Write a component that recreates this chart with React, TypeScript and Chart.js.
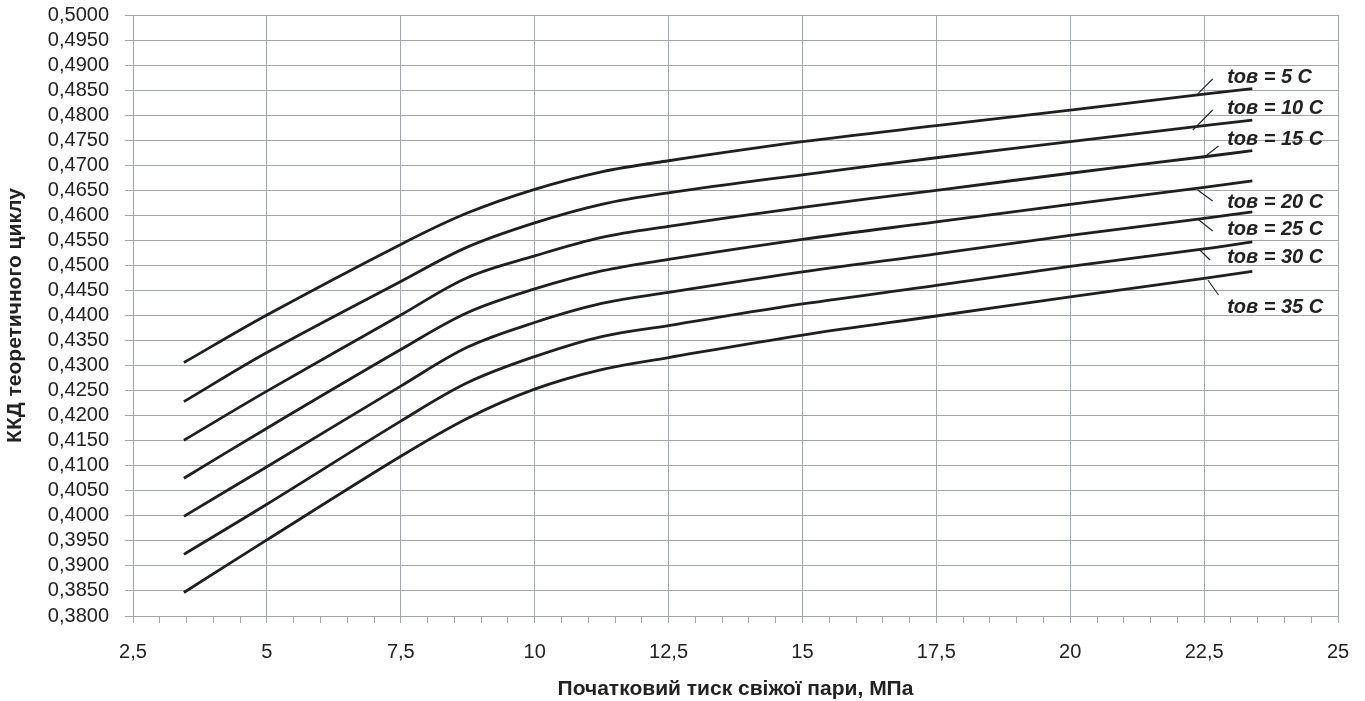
import React, { useEffect, useRef } from "react";
import { Chart, registerables } from "chart.js";

Chart.register(...registerables);

// Initial steam pressure, MPa
const pressure = [3.45, 5, 7.5, 8.75, 10, 11.25, 12.5, 15, 17.5, 20, 22.5, 23.4];

// Theoretical cycle efficiency for cooling-water temperatures
const eta5 = [0.4306, 0.4401, 0.4542, 0.4605, 0.4652, 0.4687, 0.4709, 0.4747, 0.4779, 0.481, 0.4842, 0.4853];
const eta10 = [0.4228, 0.4326, 0.4468, 0.4537, 0.4585, 0.4622, 0.4645, 0.4681, 0.4715, 0.4747, 0.4779, 0.479];
const eta15 = [0.4151, 0.4249, 0.4401, 0.4476, 0.4519, 0.4556, 0.4578, 0.4616, 0.465, 0.4684, 0.4717, 0.4729];
const eta20 = [0.4075, 0.4175, 0.4332, 0.4406, 0.4453, 0.4489, 0.4512, 0.4552, 0.4587, 0.4622, 0.4656, 0.4669];
const eta25 = [0.3999, 0.4098, 0.4259, 0.4337, 0.4386, 0.4424, 0.4446, 0.4487, 0.4523, 0.456, 0.4594, 0.4607];
const eta30 = [0.3923, 0.4023, 0.4189, 0.4266, 0.4318, 0.4358, 0.438, 0.4423, 0.446, 0.4498, 0.4533, 0.4547];
const eta35 = [0.3847, 0.3952, 0.4119, 0.4195, 0.4253, 0.4292, 0.4316, 0.4361, 0.4399, 0.4437, 0.4474, 0.4488];

const seriesValues = [eta5, eta10, eta15, eta20, eta25, eta30, eta35];
const seriesNames = [
  "tов = 5 C",
  "tов = 10 C",
  "tов = 15 C",
  "tов = 20 C",
  "tов = 25 C",
  "tов = 30 C",
  "tов = 35 C",
];

// Label annotation anchors (data units)
const labelX = 22.93;
const labelY = [0.48762, 0.48143, 0.47524, 0.46266, 0.45727, 0.45168, 0.44169];
const leaderCurveX = [22.38, 22.29, 22.48, 22.38, 22.38, 22.42, 22.57];
const leaderCurveY = [0.48423, 0.47704, 0.47145, 0.46506, 0.45927, 0.45308, 0.44708];
const leaderLabelX = [22.66, 22.66, 22.77, 22.66, 22.66, 22.61, 22.77];
const leaderLabelY = [0.48722, 0.48103, 0.47384, 0.46286, 0.45687, 0.45108, 0.44409];

const xMin = 2.5;
const xMax = 25;
const xStep = 0.5;
const xMajor = 2.5;
const yMin = 0.38;
const yMax = 0.5;
const yStep = 0.005;

const FONT = "'Liberation Sans', Arial, sans-serif";
const GRID = "#a2a6ad";
const INK = "#222222";
const LINE = "#1f1f1f";

const isMajorX = (v: number) => Math.abs(v / xMajor - Math.round(v / xMajor)) < 1e-6;

const labelPlugin = {
  id: "curveLabels",
  afterDatasetsDraw(chart: any) {
    const { ctx, scales } = chart;
    const xs = scales.x;
    const ys = scales.y;
    ctx.save();
    ctx.strokeStyle = INK;
    ctx.lineWidth = 1.1;
    for (let i = 0; i < seriesNames.length; i++) {
      ctx.beginPath();
      ctx.moveTo(xs.getPixelForValue(leaderCurveX[i]), ys.getPixelForValue(leaderCurveY[i]));
      ctx.lineTo(xs.getPixelForValue(leaderLabelX[i]), ys.getPixelForValue(leaderLabelY[i]));
      ctx.stroke();
    }
    ctx.fillStyle = INK;
    ctx.font = `italic bold 20px ${FONT}`;
    ctx.textAlign = "left";
    ctx.textBaseline = "middle";
    for (let i = 0; i < seriesNames.length; i++) {
      ctx.fillText(seriesNames[i], xs.getPixelForValue(labelX), ys.getPixelForValue(labelY[i]));
    }
    ctx.restore();
  },
};

export default function App() {
  const canvasRef = useRef<HTMLCanvasElement | null>(null);

  useEffect(() => {
    const canvas = canvasRef.current;
    if (!canvas) return;
    const chart = new Chart(canvas, {
      type: "line",
      data: {
        datasets: seriesValues.map((vals, i) => ({
          label: seriesNames[i],
          data: pressure.map((p, j) => ({ x: p, y: vals[j] })),
          borderColor: LINE,
          borderWidth: 2.8,
          pointRadius: 0,
          fill: false,
          tension: 0.35,
        })),
      },
      options: {
        responsive: false,
        animation: false,
        events: [],
        layout: { padding: { left: 0, top: 15, right: 27, bottom: 0 } },
        plugins: {
          legend: { display: false },
          tooltip: { enabled: false },
          title: { display: false },
        },
        scales: {
          x: {
            type: "linear",
            min: xMin,
            max: xMax,
            border: { color: GRID, width: 1 },
            grid: {
              color: (c: any) => (c.tick && isMajorX(c.tick.value) ? GRID : "rgba(0,0,0,0)"),
              tickColor: GRID,
              tickLength: 7,
              lineWidth: 1,
            },
            ticks: {
              stepSize: xStep,
              autoSkip: false,
              maxRotation: 0,
              minRotation: 0,
              padding: 17,
              color: INK,
              font: { family: FONT, size: 20 },
              callback: (v: any) => (isMajorX(Number(v)) ? String(Number(v)).replace(".", ",") : ""),
            },
            title: {
              display: true,
              text: "Початковий тиск свіжої пари, МПа",
              color: INK,
              font: { family: FONT, size: 21, weight: "bold" },
              padding: { top: 0, bottom: -1 },
            },
            afterFit: (s: any) => {
              s.height = 85;
              s.paddingLeft = 0;
              s.paddingRight = 0;
            },
          },
          y: {
            type: "linear",
            min: yMin,
            max: yMax,
            border: { color: GRID, width: 1 },
            grid: {
              color: GRID,
              tickColor: GRID,
              tickLength: 8,
              lineWidth: 1,
            },
            ticks: {
              stepSize: yStep,
              autoSkip: false,
              padding: 16,
              color: INK,
              font: { family: FONT, size: 20 },
              callback: (v: any) => Number(v).toFixed(4).replace(".", ","),
            },
            title: {
              display: true,
              text: "ККД теоретичного циклу",
              color: INK,
              font: { family: FONT, size: 21, weight: "bold" },
              padding: { top: 3, bottom: 0 },
            },
            afterFit: (s: any) => {
              s.width = 133;
              s.paddingTop = 0;
              s.paddingBottom = 0;
            },
          },
        },
      },
      plugins: [labelPlugin],
    });
    return () => chart.destroy();
  }, []);

  return (
    <div style={{ position: "fixed", left: 0, top: 0, width: 1365, height: 701, background: "#ffffff" }}>
      <canvas ref={canvasRef} width={1365} height={701} style={{ display: "block", width: 1365, height: 701 }} />
    </div>
  );
}
